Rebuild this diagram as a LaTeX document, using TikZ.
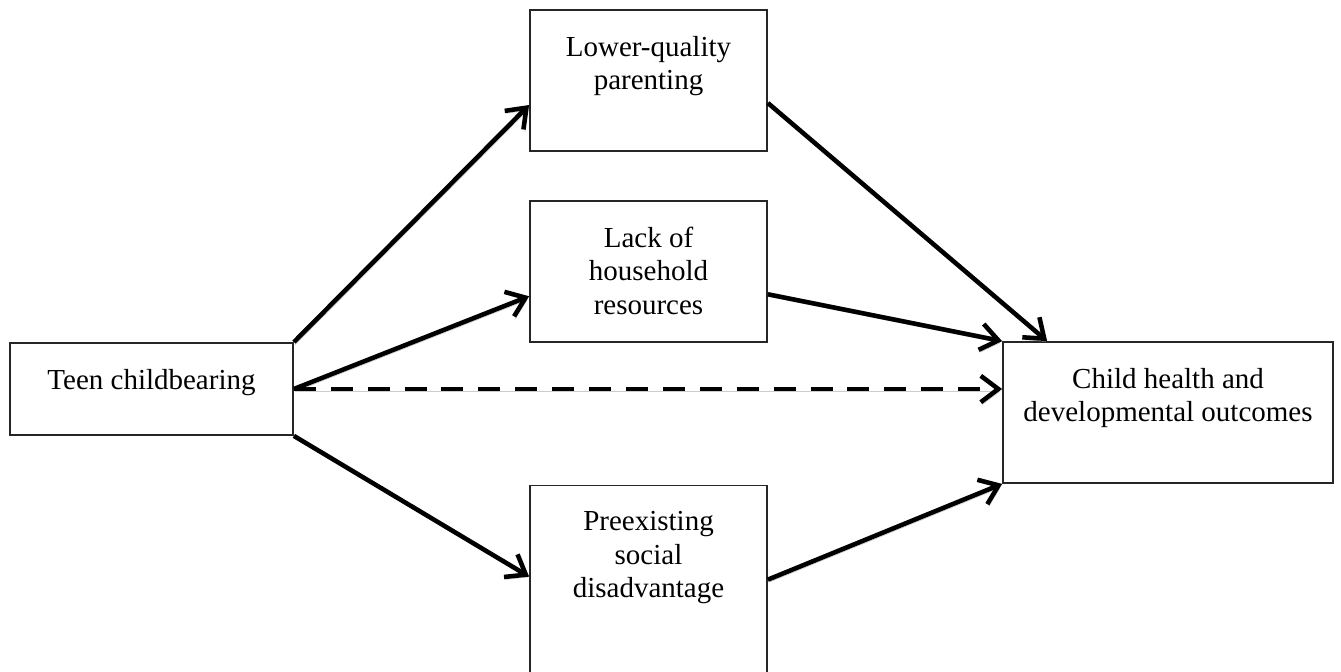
\documentclass[tikz,border=0pt]{standalone}
\usepackage{fontspec}
\setmainfont{Liberation Serif}
\usetikzlibrary{arrows.meta, positioning}

\begin{document}
\begin{tikzpicture}[
  box/.style={rectangle, draw=black!85, line width=1pt, fill=white,
              minimum width=4.74cm, minimum height=2.82cm, inner sep=0pt},
  txt/.style={anchor=north, yshift=-0.53cm, align=center, inner sep=0pt,
              font=\fontsize{16.5}{19.1}\selectfont},
  arrow/.style={-{Straight Barb[length=10pt, width=15pt, line width=2.6pt]},
                line width=2.6pt,
                preaction={draw=black!20,
                           transform canvas={xshift=0.8pt, yshift=-1.4pt}}},
  dasharrow/.style={arrow, dash pattern=on 12.5pt off 8.5pt}
]
\path[use as bounding box, clip] (0,0) rectangle (26.82,-13.42);

\node[box, minimum width=5.66cm, minimum height=1.84cm,
      label={[txt]north:Teen childbearing}] (teen) at (3.03,-7.78) {};

\node[box, label={[txt]north:{Lower-quality\\parenting}}] (parenting)
  at (12.97,-1.61) {};
\node[box, below=0.96cm of parenting,
      label={[txt]north:{Lack of\\household\\resources}}] (resources) {};
\node[box, below=2.84cm of resources, minimum height=4.34cm,
      label={[txt]north:{Preexisting\\social\\disadvantage}}] (disadvantage) {};

\node[box, minimum width=6.6cm,
      label={[txt]north:{Child health and\\developmental outcomes}}] (outcomes)
  at (23.36,-8.25) {};

\draw[arrow] (teen.north east) -- ([yshift=-0.49cm]parenting.west);
\draw[arrow] (teen.east) -- ([yshift=-0.5cm]resources.west);
\draw[arrow] (teen.south east) -- ([yshift=-1.84cm]disadvantage.north west);
\draw[dasharrow] (teen.east) -- (teen.east -| outcomes.west);
\draw[arrow] ([yshift=-0.45cm]parenting.east) -- ([xshift=0.9cm]outcomes.north west);
\draw[arrow] ([yshift=-0.46cm]resources.east) -- (outcomes.north west);
\draw[arrow] ([yshift=-1.9cm]disadvantage.north east) -- (outcomes.south west);

\end{tikzpicture}
\end{document}
